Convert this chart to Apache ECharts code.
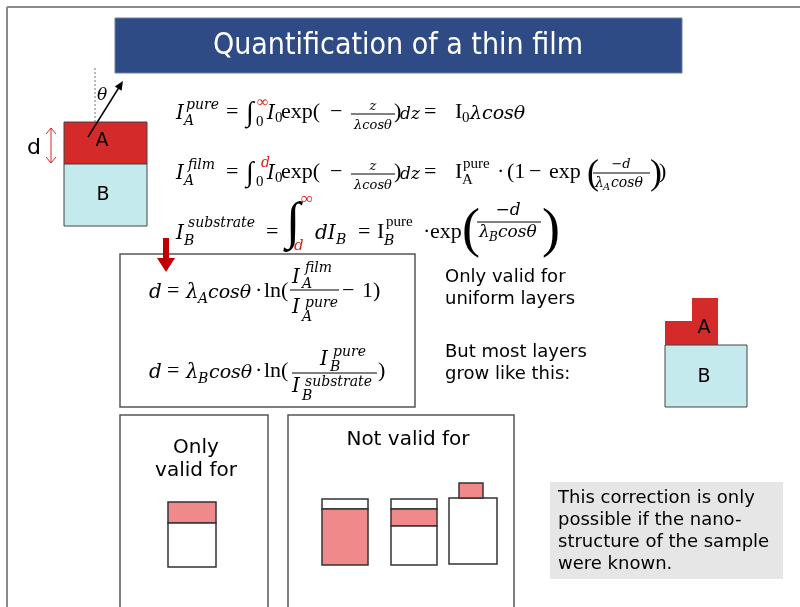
<!DOCTYPE html>
<html><head><meta charset="utf-8">
<script src="https://cdn.jsdelivr.net/npm/echarts@6/dist/echarts.min.js"></script>
<style>html,body{margin:0;padding:0;background:#fff}#c{width:800px;height:607px}</style>
</head><body><div id="c"></div>
<script>
const titleText = 'Quantification of a thin film';
const layerLabels = ['A', 'B'];
const thicknessLabel = 'd';
const uniformNote = ['Only valid for', 'uniform layers'];
const growthNote = ['But most layers', 'grow like this:'];
const validLabel = ['Only', 'valid for'];
const invalidLabel = ['Not valid for'];
const correctionNote = ['This correction is only', 'possible if the nano-', 'structure of the sample', 'were known.'];

const chart = echarts.init(document.getElementById('c'), null, {renderer: 'canvas'});
const G = [];
const UP = '"Liberation Serif", "DejaVu Serif", serif';
const IT = '"DejaVu Serif", "Liberation Serif", serif';
const SANS = '"DejaVu Sans", Verdana, sans-serif';
const RED = '#E0201A';

function T(x, y, text, size, o) {
  o = o || {};
  G.push({type: 'text', z: 10, style: {
    x: x, y: y, text: text,
    font: (o.italic ? 'italic ' : '') + size + 'px ' + (o.family || UP),
    fill: o.color || '#000',
    align: o.align || 'left', textAlign: o.align || 'left',
    verticalAlign: 'middle', textVerticalAlign: 'middle'
  }});
}
// upright math text placed by baseline
function M(x, base, text, size, o) { o = Object.assign({family: UP}, o || {}); T(x, base - 0.3 * size, text, size, o); }
// italic math text placed by baseline
function I(x, base, text, size, o) { o = Object.assign({italic: true, family: IT}, o || {}); T(x, base - 0.28 * size, text, size, o); }
function S(x, y, text, size, o) { o = Object.assign({family: SANS}, o || {}); T(x, y, text, size, o); }
function rect(x, y, w, h, fill, stroke, lw) {
  G.push({type: 'rect', shape: {x: x, y: y, width: w, height: h},
    style: {fill: fill || 'none', stroke: stroke || null, lineWidth: lw || 1}});
}
function line(x1, y1, x2, y2, stroke, lw, dash) {
  G.push({type: 'line', shape: {x1: x1, y1: y1, x2: x2, y2: y2},
    style: {stroke: stroke || '#000', lineWidth: lw || 1, lineDash: dash || null}});
}
function poly(points, fill, stroke, lw) {
  G.push({type: 'polygon', shape: {points: points}, style: {fill: fill, stroke: stroke || null, lineWidth: lw || 1}});
}
function pline(points, stroke, lw) {
  G.push({type: 'polyline', shape: {points: points}, style: {stroke: stroke, lineWidth: lw || 1, fill: 'none'}});
}

// slide frame
line(7, 7, 800, 7, '#8a8a8a', 2);
line(7, 7, 7, 607, '#8a8a8a', 2);

// title
rect(115, 18, 567, 55, '#2F4B85', '#6B7FA8', 1);
S(398, 46, titleText, 30, {color: '#fff', align: 'center', family: '"DejaVu Sans Condensed", "DejaVu Sans", sans-serif'});

// left layer sketch
line(95, 68, 95, 122, '#777', 1, [2, 2]);
rect(64, 122, 83, 42, '#D42A2A', '#444', 1);
rect(64, 164, 83, 62, '#C5EAED', '#444', 1);
line(88, 137, 120.5, 85, '#000', 1.5);
poly([[123, 81], [121.6, 90.7], [114.8, 86.5]], '#000');
I(97, 100, 'θ', 17);
S(102, 141, layerLabels[0], 19, {align: 'center'});
S(103, 195, layerLabels[1], 19, {align: 'center'});
line(51, 128, 51, 163, '#D22', 1);
pline([[46, 134], [51, 128], [56, 134]], '#D22', 1);
pline([[46, 157], [51, 163], [56, 157]], '#D22', 1);
S(34, 148, thicknessLabel, 22, {align: 'center'});

// formula 1
const b1 = 119;
I(176, b1, 'I', 20); I(186, b1 - 10, 'pure', 14); I(184, b1 + 6, 'A', 14);
M(226, b1, '=', 22);
M(246, b1 + 3, '∫', 28);
M(257, b1 - 11, '∞', 16, {color: RED});
M(256, b1 + 8, '0', 15);
I(267, b1, 'I', 20); M(275, b1 + 4, '0', 15);
M(281, b1, 'exp(', 22); M(330, b1, '−', 22);
I(373, b1 - 9, 'z', 13, {align: 'center'});
line(351, b1 - 5, 395, b1 - 5, '#000', 1);
I(373, b1 + 10, 'λcosθ', 13, {align: 'center'});
M(394, b1, ')', 22); I(400, b1, 'dz', 17); M(424, b1, '=', 22);
M(455, b1, 'I', 22); M(462, b1 + 4, '0', 15); I(470, b1, 'λcosθ', 19);

// formula 2
const b2 = 179;
I(176, b2, 'I', 20); I(188, b2 - 10, 'film', 14); I(184, b2 + 6, 'A', 14);
M(226, b2, '=', 22);
M(246, b2 + 3, '∫', 28);
I(261, b2 - 12, 'd', 14, {color: RED});
M(256, b2 + 8, '0', 15);
I(267, b2, 'I', 20); M(275, b2 + 4, '0', 15);
M(281, b2, 'exp(', 22); M(330, b2, '−', 22);
I(373, b2 - 9, 'z', 13, {align: 'center'});
line(351, b2 - 5, 395, b2 - 5, '#000', 1);
I(373, b2 + 10, 'λcosθ', 13, {align: 'center'});
M(394, b2, ')', 22); I(400, b2, 'dz', 17); M(424, b2, '=', 22);
M(455, b2, 'I', 22); M(463, b2 - 10, 'pure', 15); M(462, b2 + 6, 'A', 15);
M(497, b2, '·', 22); M(507, b2, '(1', 22); M(529, b2, '−', 22); M(549, b2, 'exp', 22);
M(587, b2 + 6, '(', 36);
I(621, b2 - 11, '−d', 13, {align: 'center'});
line(593, b2 - 6, 650, b2 - 6, '#000', 1);
I(595, b2 + 8, 'λ', 14); I(603, b2 + 11, 'A', 10); I(611, b2 + 8, 'cosθ', 14);
M(650, b2 + 6, ')', 36); M(659, b2, ')', 22);

// formula 3
const b3 = 239;
I(176, b3, 'I', 20); I(188, b3 - 12, 'substrate', 14); I(184, b3 + 6, 'B', 14);
M(266, b3, '=', 22);
M(286, b3 + 1, '∫', 52);
M(301, b3 - 34, '∞', 17, {color: RED});
I(294, b3 + 11, 'd', 15, {color: RED});
I(315, b3, 'dI', 20); I(336, b3 + 5, 'B', 14);
M(358, b3, '=', 22);
M(377, b3, 'I', 22); M(386, b3 - 12, 'pure', 15); I(384, b3 + 6, 'B', 14);
M(423, b3, '·', 22); M(430, b3, 'exp', 22);
M(462, b3 + 9, '(', 54);
I(508, b3 - 24, '−d', 17, {align: 'center'});
line(477, b3 - 17, 541, b3 - 17, '#000', 1);
I(479, b3 - 2, 'λ', 17); I(489, b3 + 2, 'B', 12); I(498, b3 - 2, 'cosθ', 17);
M(542, b3 + 9, ')', 54);

// result box
rect(120, 254, 295, 153, 'none', '#555', 1.5);
rect(163, 238, 6, 21, '#C00000');
poly([[157, 258], [175, 258], [166, 272]], '#C00000');

const ba = 298;
I(149, ba, 'd', 20); M(167, ba, '=', 22);
I(186, ba, 'λ', 20); I(198, ba + 5, 'A', 14); I(208, ba, 'cosθ', 19);
M(255, ba, '·', 22); M(264, ba, 'ln(', 22);
I(292, 283, 'I', 20); I(305, 272, 'film', 14); I(302, 288, 'A', 14);
line(290, 290, 339, 290, '#000', 1);
I(292, 313, 'I', 20); I(305, 307, 'pure', 14); I(302, 321, 'A', 14);
M(342, ba, '−', 22); M(362, ba, '1)', 22);

const bb = 378;
I(149, bb, 'd', 20); M(167, bb, '=', 22);
I(186, bb, 'λ', 20); I(198, bb + 5, 'B', 14); I(209, bb, 'cosθ', 19);
M(255, bb, '·', 22); M(264, bb, 'ln(', 22);
I(320, 365, 'I', 20); I(333, 356, 'pure', 14); I(330, 371, 'B', 14);
line(292, 373, 377, 373, '#000', 1);
I(292, 392, 'I', 20); I(305, 386, 'substrate', 14); I(302, 400, 'B', 14);
M(378, bb, ')', 22);

// side notes
S(445, 277, uniformNote[0], 18); S(445, 299, uniformNote[1], 18);
S(445, 352, growthNote[0], 18); S(445, 374, growthNote[1], 18);

// island sketch
poly([[665, 345], [665, 321], [692, 321], [692, 298], [718, 298], [718, 345]], '#D42A2A');
rect(665, 345, 82, 62, '#C5EAED', '#444', 1);
S(704, 328, layerLabels[0], 19, {align: 'center'});
S(704, 377, layerLabels[1], 19, {align: 'center'});

// bottom panels
rect(120, 415, 148, 200, 'none', '#555', 1.5);
rect(288, 415, 226, 200, 'none', '#555', 1.5);
S(196, 448, validLabel[0], 20, {align: 'center'});
S(196, 471, validLabel[1], 20, {align: 'center'});
S(408, 440, invalidLabel[0], 20, {align: 'center'});
const PINK = '#F08A8A', EDGE = '#333';
rect(168, 502, 48, 21, PINK, EDGE, 1.5); rect(168, 523, 48, 44, '#fff', EDGE, 1.5);
rect(322, 499, 46, 10, '#fff', EDGE, 1.5); rect(322, 509, 46, 56, PINK, EDGE, 1.5);
rect(391, 499, 46, 10, '#fff', EDGE, 1.5); rect(391, 509, 46, 17, PINK, EDGE, 1.5); rect(391, 526, 46, 39, '#fff', EDGE, 1.5);
rect(449, 498, 48, 66, '#fff', EDGE, 1.5); rect(459, 483, 24, 15, PINK, EDGE, 1.5);

// note box
rect(550, 482, 233, 97, '#E6E6E6');
correctionNote.forEach(function (s, i) { S(558, 498 + 22 * i, s, 18); });

chart.setOption({animation: false, graphic: {elements: G}});
</script></body></html>
